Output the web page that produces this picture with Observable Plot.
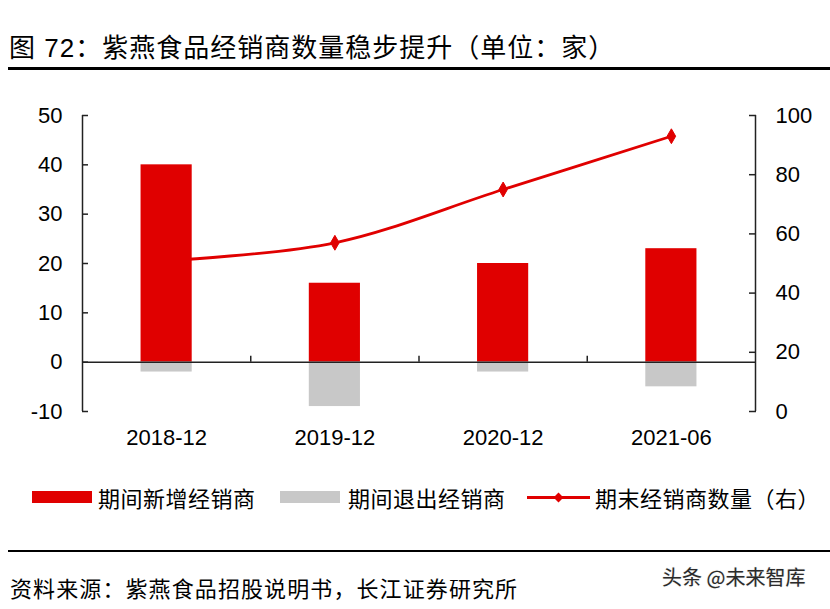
<!DOCTYPE html>
<html>
<head>
<meta charset="utf-8">
<script src="https://cdn.jsdelivr.net/npm/d3@7"></script>
<script src="https://cdn.jsdelivr.net/npm/@observablehq/plot@0.6"></script>
<style>
  html, body { margin: 0; padding: 0; background: #fff; }
  body { width: 830px; height: 609px; position: relative; overflow: hidden;
         font-family: "Liberation Sans", Arial, "Noto Sans CJK SC", sans-serif; color: #000; }
  .abs { position: absolute; white-space: nowrap; }
  #title { left: 9px; top: 33px; font-size: 26px; line-height: 30px; letter-spacing: 1px; }
  .rule { position: absolute; left: 8px; right: 0; background: #000; }
  #chart { position: absolute; left: 0; top: 90px; }
  .lg-text { font-size: 22px; line-height: 26px; top: 484px; letter-spacing: 0.5px; font-family: "Noto Sans CJK SC", sans-serif; }
  .sw { position: absolute; }
  #source { left: 10px; top: 573px; font-size: 22px; line-height: 28px; letter-spacing: 1.1px; font-family: "Noto Sans CJK SC", sans-serif; }
  #wm { left: 662px; top: 564px; font-size: 20px; line-height: 26px; color: #2a2a2a; font-family: "Noto Sans CJK SC", sans-serif;
        text-shadow: 0 0 2px #fff, 0 0 1px #999; }
</style>
</head>
<body>
<div id="title" class="abs">图 72：紫燕食品经销商数量稳步提升（单位：家）</div>
<div class="rule" style="top:67px;height:3px;"></div>
<div id="chart"></div>
<div id="legend"></div>
<div class="rule" style="top:550px;height:2px;"></div>
<div id="source" class="abs">资料来源：紫燕食品招股说明书，长江证券研究所</div>
<div id="wm" class="abs">头条 @未来智库</div>
<script>
// ---- data ----
const categories = ["2018-12", "2019-12", "2020-12", "2021-06"];
const newDealers = [40, 16, 20, 23];        // 期间新增经销商 (left axis)
const exitedDealers = [-2, -9, -2, -5];     // 期间退出经销商 (left axis)
const totalDealers = [51, 57, 75, 93];      // 期末经销商数量 (right axis)
const leftTicks = [-10, 0, 10, 20, 30, 40, 50];
const rightTicks = [0, 20, 40, 60, 80, 100];
const seriesNames = ["期间新增经销商", "期间退出经销商", "期末经销商数量（右）"];

const RED = "#E00000", GRAY = "#C8C8C8", AX = "#222";
const leftDomain = [-10, 50], rightDomain = [0, 100];
// map right-axis value onto the left-axis domain
const toLeft = v => leftDomain[0] + (v - rightDomain[0]) * (leftDomain[1] - leftDomain[0]) / (rightDomain[1] - rightDomain[0]);
const toRight = v => rightDomain[0] + (v - leftDomain[0]) * (rightDomain[1] - rightDomain[0]) / (leftDomain[1] - leftDomain[0]);

const rows = categories.map((c, i) => ({i, c, add: newDealers[i], exit: exitedDealers[i], total: totalDealers[i]}));
const idx = categories.map((c, i) => i);
const bounds = idx.slice(1).map(i => i - 0.5);
const halfBar = 0.152;

const plot = Plot.plot({
  width: 830,
  height: 370,
  marginTop: 25,
  marginBottom: 49,
  marginLeft: 82,
  marginRight: 75,
  style: {fontFamily: "'Liberation Sans', Arial, sans-serif", fontSize: "22px", color: "#000", background: "transparent", overflow: "visible"},
  x: {domain: [-0.5, categories.length - 0.5]},
  y: {domain: leftDomain},
  marks: [
    Plot.line(rows, {x: "i", y: d => toLeft(d.total), curve: "catmull-rom", stroke: RED, strokeWidth: 2.8}),
    Plot.dot(rows, {x: "i", y: d => toLeft(d.total), symbol: "diamond", r: 4.5, fill: RED, stroke: RED, strokeWidth: 1}),
    Plot.rectY(rows, {x1: d => d.i - halfBar, x2: d => d.i + halfBar, y1: 0, y2: "add", fill: RED}),
    Plot.rectY(rows, {x1: d => d.i - halfBar, x2: d => d.i + halfBar, y1: 0, y2: "exit", fill: GRAY}),
    Plot.ruleY([0], {stroke: AX, strokeWidth: 1.5}),
    Plot.ruleX([-0.5, categories.length - 0.5], {stroke: AX, strokeWidth: 1.5}),
    Plot.ruleX(bounds, {y1: 0, y2: 1.2, stroke: AX, strokeWidth: 1.5}),
    Plot.axisY(leftTicks, {anchor: "left", tickSize: -6, tickPadding: 26, stroke: AX, strokeWidth: 1.5,
      tickFormat: d => String(d), label: null}),
    Plot.axisY(rightTicks.map(toLeft), {anchor: "right", tickSize: -7, tickPadding: 27, stroke: AX, strokeWidth: 1.5,
      tickFormat: d => String(Math.round(toRight(d))), label: null}),
    Plot.axisX(idx, {anchor: "bottom", tickSize: 0, tickPadding: 18, tickFormat: i => categories[i], label: null})
  ]
});
document.getElementById("chart").appendChild(plot);

// legend (HTML, below the chart)
const lg = document.getElementById("legend");
const items = [
  {name: seriesNames[0], kind: "bar", color: RED, swLeft: 32, swWidth: 60, textLeft: 98},
  {name: seriesNames[1], kind: "bar", color: GRAY, swLeft: 280, swWidth: 60, textLeft: 348},
  {name: seriesNames[2], kind: "line", color: RED, swLeft: 527, swWidth: 63, textLeft: 595}
];
for (const it of items) {
  if (it.kind === "bar") {
    const s = document.createElement("div");
    s.className = "sw";
    s.style.cssText = `left:${it.swLeft}px;top:491px;width:${it.swWidth}px;height:12px;background:${it.color}`;
    lg.appendChild(s);
  } else {
    const s = document.createElement("div");
    s.className = "sw";
    s.style.cssText = `left:${it.swLeft}px;top:496px;width:${it.swWidth}px;height:3px;background:${it.color}`;
    lg.appendChild(s);
    const dm = document.createElement("div");
    dm.className = "sw";
    dm.style.cssText = `left:${it.swLeft + it.swWidth / 2 - 4}px;top:493.5px;width:7px;height:7px;background:${it.color};transform:rotate(45deg)`;
    lg.appendChild(dm);
  }
  const t = document.createElement("div");
  t.className = "abs lg-text";
  t.style.left = it.textLeft + "px";
  t.textContent = it.name;
  lg.appendChild(t);
}
</script>
</body>
</html>
